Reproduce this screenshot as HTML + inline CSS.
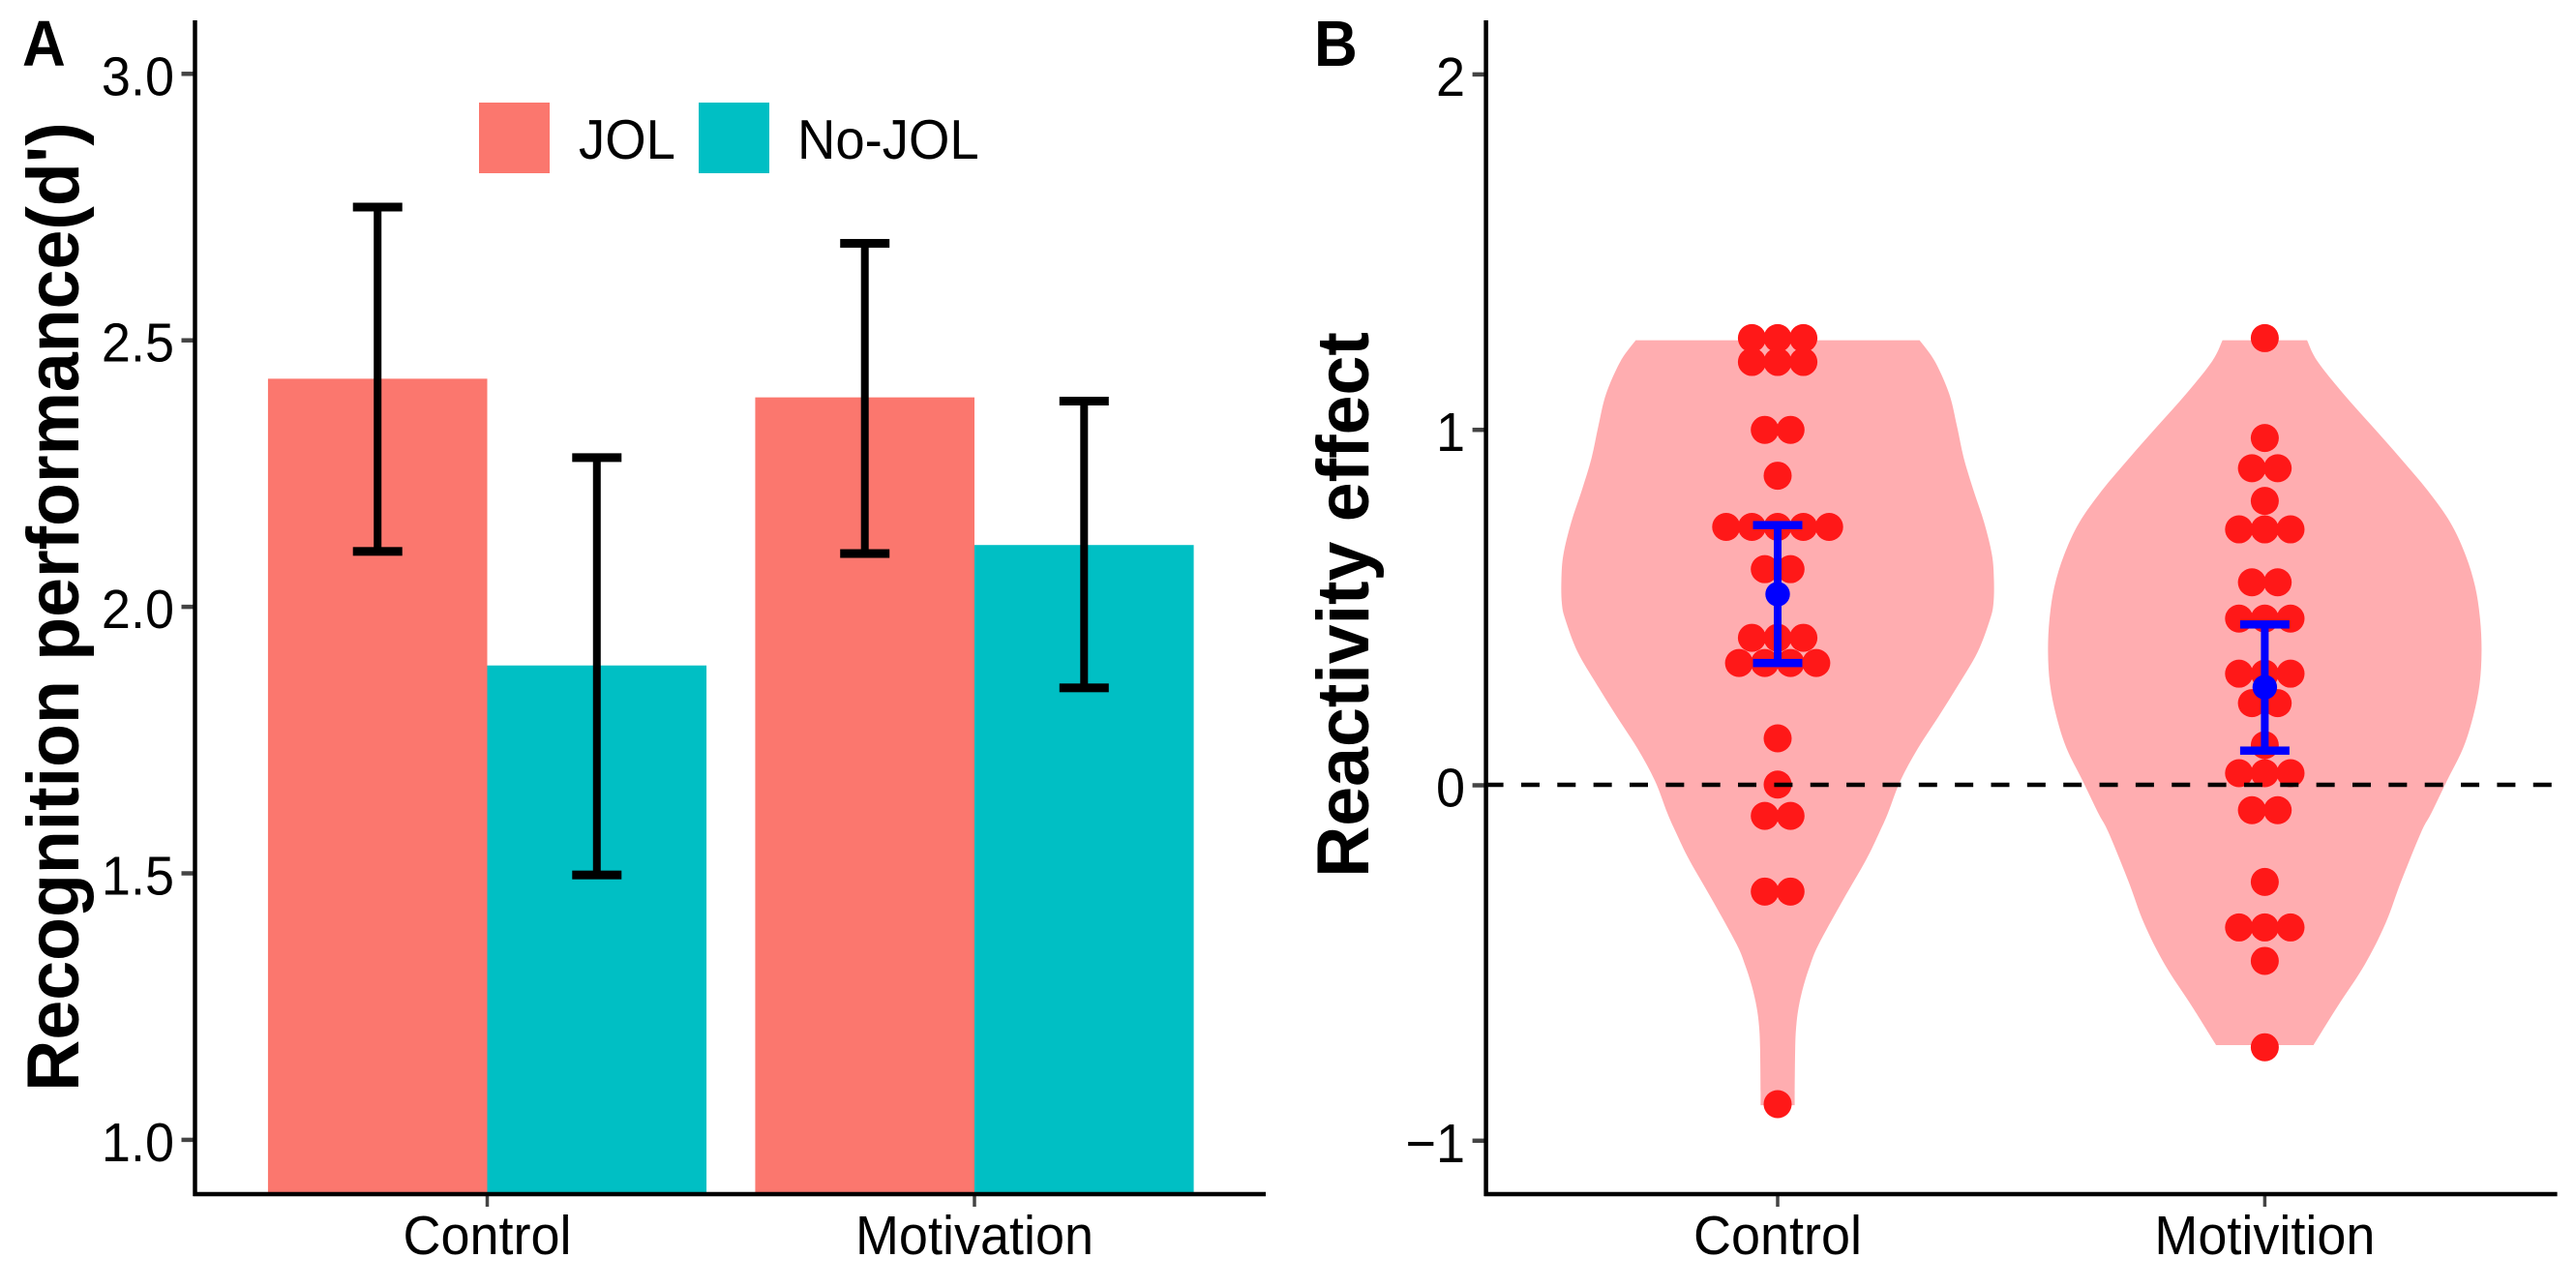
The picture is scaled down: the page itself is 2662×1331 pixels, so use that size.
<!DOCTYPE html>
<html>
<head>
<meta charset="utf-8">
<title>Recognition performance and reactivity effect</title>
<style>
html,body{margin:0;padding:0;background:#fff;}
svg{display:block;}
text{font-family:"Liberation Sans",Arial,sans-serif;fill:#000;}
</style>
</head>
<body>
<svg id="chart" xmlns="http://www.w3.org/2000/svg" width="2662" height="1331" viewBox="0 0 2662 1331">
  <rect x="0" y="0" width="2662" height="1331" fill="#ffffff"/>
  <text transform="translate(23,68) scale(1,1.07)" font-size="62" font-weight="700">A</text>
  <text transform="translate(1358,68) scale(1,1.07)" font-size="62" font-weight="700">B</text>
  <text transform="translate(81,627) rotate(-90) scale(1,1.04)" font-size="73.5" font-weight="700" text-anchor="middle">Recognition performance(d')</text>
  <text transform="translate(1414,625) rotate(-90) scale(1,1.04)" font-size="73.5" font-weight="700" text-anchor="middle">Reactivity effect</text>
  <g id="panelA"></g>
  <g id="panelB"></g>
  <g>
    <rect x="495" y="106" width="73" height="73" fill="#FB776E"/>
    <text transform="translate(598,164) scale(1,1.05)" font-size="54.5">JOL</text>
    <rect x="722" y="106" width="73" height="73" fill="#00BFC4"/>
    <text transform="translate(824,164) scale(1,1.05)" font-size="54.5">No-JOL</text>
  </g>
</svg>
<script>
// Panel A data
var barCategories = ['Control', 'Motivation'];
var barTickValues = [1.0, 1.5, 2.0, 2.5, 3.0];
var barTickLabels = ['1.0', '1.5', '2.0', '2.5', '3.0'];
var jolMeans = [2.428, 2.393];
var jolUpper = [2.750, 2.682];
var jolLower = [2.104, 2.100];
var noJolMeans = [1.890, 2.116];
var noJolUpper = [2.280, 2.386];
var noJolLower = [1.497, 1.848];

// Panel B data
var violinCategories = ['Control', 'Motivition'];
var violinTickValues = [-1, 0, 1, 2];
var violinTickLabels = ['\u22121', '0', '1', '2'];
var controlDots = [1.258,1.258,1.258,1.191,1.191,1.191,1.0,1.0,0.871,0.727,0.727,0.727,0.727,0.727,0.608,0.608,0.415,0.415,0.415,0.344,0.344,0.344,0.344,0.132,0.002,-0.086,-0.086,-0.299,-0.299,-0.897];
var motivitionDots = [1.258,0.977,0.892,0.892,0.80,0.72,0.72,0.72,0.571,0.571,0.469,0.469,0.469,0.314,0.314,0.314,0.231,0.231,0.113,0.034,0.034,0.034,-0.07,-0.07,-0.272,-0.40,-0.40,-0.40,-0.494,-0.737];
var controlSummary = {mean: 0.5377, upper: 0.732, lower: 0.344};
var motivitionSummary = {mean: 0.276, upper: 0.4525, lower: 0.0975};
var controlViolinLevels = [1.2519,1.193,1.102,1.011,0.921,0.830,0.739,0.648,0.576,0.512,0.467,0.376,0.285,0.195,0.104,0.013,-0.078,-0.132,-0.211,-0.328,-0.448,-0.505,-0.565,-0.625,-0.68,-0.742,-0.862,-0.9];
var controlViolinDensity = [0.2914,0.3225,0.352,0.368,0.382,0.402,0.424,0.440,0.444,0.443,0.436,0.411,0.372,0.331,0.288,0.252,0.2265,0.209,0.181,0.132,0.084,0.067,0.053,0.043,0.038,0.036,0.035,0.035];
var motivitionViolinLevels = [1.2519,1.193,1.102,1.011,0.921,0.830,0.739,0.648,0.558,0.467,0.376,0.285,0.195,0.104,0.013,-0.078,-0.132,-0.270,-0.388,-0.505,-0.625,-0.731];
var motivitionViolinDensity = [0.0868,0.108,0.161,0.220,0.278,0.334,0.381,0.412,0.432,0.442,0.445,0.441,0.428,0.407,0.374,0.342,0.321,0.280,0.248,0.205,0.148,0.100];
var referenceValue = 0;

var NS = 'http://www.w3.org/2000/svg';
var SALMON = '#FB776E';
var TEAL = '#00BFC4';
var VIOLIN = '#FFADB0';
var DOT = '#FF1818';
var BLUE = '#0000FF';
var TICK = '#444444';

function make(parent, tag, attrs) {
  var el = document.createElementNS(NS, tag);
  for (var k in attrs) { el.setAttribute(k, attrs[k]); }
  parent.appendChild(el);
  return el;
}

// Axis scales
function xA(v) { return 503.5 + (v - 1) * 503.5; }
function yA(v) { return 76.3 + (3 - v) * 550.8; }
function xB(v) { return 1837 + (v - 1) * 503.4; }
function yB(v) { return 811.5 - v * 367.3; }

function drawAxes(g, left, right, top, bottom, xPos, yPos, xCats, yVals, yLabels, labelX) {
  var i, el;
  for (i = 0; i < yVals.length; i++) {
    el = make(g, 'line', {x1: left - 14, x2: left, y1: yPos(yVals[i]), y2: yPos(yVals[i]), stroke: TICK, 'stroke-width': 4.5});
    
    
    el = make(g, 'text', {transform: 'translate(' + labelX + ',' + (yPos(yVals[i]) + 22) + ') scale(1,1.05)', 'font-size': 54, 'text-anchor': 'end'});
    el.textContent = yLabels[i];
    
    
  }
  for (i = 0; i < xCats.length; i++) {
    el = make(g, 'line', {x1: xPos(i + 1), x2: xPos(i + 1), y1: bottom, y2: bottom + 13, stroke: TICK, 'stroke-width': 3.5});
    
    
    el = make(g, 'text', {transform: 'translate(' + xPos(i + 1) + ',1296) scale(1,1.05)', 'font-size': 54, 'text-anchor': 'middle'});
    el.textContent = xCats[i];
    
    
  }
  el = make(g, 'line', {x1: left, x2: left, y1: top, y2: bottom + 2, stroke: '#000', 'stroke-width': 4.5});
  
  
  el = make(g, 'line', {x1: left - 2, x2: right, y1: bottom, y2: bottom, stroke: '#000', 'stroke-width': 4.5});
  
  
}

function drawErrorBar(g, x, yTop, yBottom, color, lineW, capW, capH) {
  var el = make(g, 'rect', {x: x - lineW / 2, y: yTop, width: lineW, height: yBottom - yTop, fill: color});
  
  
  el = make(g, 'rect', {x: x - capW / 2, y: yTop - capH / 2, width: capW, height: capH, fill: color});
  
  
  el = make(g, 'rect', {x: x - capW / 2, y: yBottom - capH / 2, width: capW, height: capH, fill: color});
  
  
}

function drawBars() {
  var g = document.getElementById('panelA');
  var w = 0.45, i, el, base = yA(0.9);
  for (i = 0; i < barCategories.length; i++) {
    el = make(g, 'rect', {x: xA(i + 1 - w), y: yA(jolMeans[i]), width: xA(i + 1) - xA(i + 1 - w), height: base - yA(jolMeans[i]), fill: SALMON});
    
    
    el = make(g, 'rect', {x: xA(i + 1), y: yA(noJolMeans[i]), width: xA(i + 1 + w) - xA(i + 1), height: base - yA(noJolMeans[i]), fill: TEAL});
    
    
  }
  for (i = 0; i < barCategories.length; i++) {
    drawErrorBar(g, xA(i + 1 - w / 2), yA(jolUpper[i]), yA(jolLower[i]), '#000', 8, 51, 9);
    drawErrorBar(g, xA(i + 1 + w / 2), yA(noJolUpper[i]), yA(noJolLower[i]), '#000', 8, 51, 9);
  }
  drawAxes(g, 201.5, 1308, 21, 1234, xA, yA, barCategories, barTickValues, barTickLabels, 180);
}

function smoothSide(pts) {
  var d = '', i, p0, p1, p2, p3;
  for (i = 0; i < pts.length - 1; i++) {
    p0 = pts[Math.max(i - 1, 0)];
    p1 = pts[i];
    p2 = pts[i + 1];
    p3 = pts[Math.min(i + 2, pts.length - 1)];
    d += ' C' + (p1[0] + (p2[0] - p0[0]) / 6) + ' ' + (p1[1] + (p2[1] - p0[1]) / 6) + ' ' +
         (p2[0] - (p3[0] - p1[0]) / 6) + ' ' + (p2[1] - (p3[1] - p1[1]) / 6) + ' ' + p2[0] + ' ' + p2[1];
  }
  return d;
}

function drawViolin(g, pos, levels, density, name) {
  var right = [], left = [], i;
  for (i = 0; i < levels.length; i++) {
    right.push([xB(pos + density[i]), yB(levels[i])]);
    left.unshift([xB(pos - density[i]), yB(levels[i])]);
  }
  var d = 'M' + right[0][0] + ' ' + right[0][1] + smoothSide(right) +
          ' L' + left[0][0] + ' ' + left[0][1] + smoothSide(left) + ' Z';
  var el = make(g, 'path', {d: d, fill: VIOLIN});
  
  
}

function drawDots(g, pos, values, name) {
  var groups = [], i, j, found, el, binW = 26.6 / 503.4;
  for (i = 0; i < values.length; i++) {
    found = false;
    for (j = 0; j < groups.length; j++) {
      if (groups[j].value === values[i]) { groups[j].count++; found = true; }
    }
    if (!found) { groups.push({value: values[i], count: 1}); }
  }
  for (i = 0; i < groups.length; i++) {
    for (j = 0; j < groups[i].count; j++) {
      el = make(g, 'circle', {cx: xB(pos + (j - (groups[i].count - 1) / 2) * binW), cy: yB(groups[i].value), r: 14.5, fill: DOT});
      
      
    }
  }
}

function drawSummary(g, pos, s) {
  drawErrorBar(g, xB(pos), yB(s.upper), yB(s.lower), BLUE, 8, 51, 8.5);
  var el = make(g, 'circle', {cx: xB(pos), cy: yB(s.mean), r: 12.7, fill: BLUE});
  
  
}

function drawViolins() {
  var g = document.getElementById('panelB');
  drawViolin(g, 1, controlViolinLevels, controlViolinDensity, 'violin-control');
  drawViolin(g, 2, motivitionViolinLevels, motivitionViolinDensity, 'violin-motivition');
  drawDots(g, 1, controlDots, 'dot-control');
  drawDots(g, 2, motivitionDots, 'dot-motivition');
  var el = make(g, 'line', {x1: 1537.6, x2: 2642, y1: yB(referenceValue) - 0.5, y2: yB(referenceValue) - 0.5, stroke: '#000', 'stroke-width': 4.5, 'stroke-dasharray': '19 18.35', 'stroke-dashoffset': 3});
  
  
  drawSummary(g, 1, controlSummary);
  drawSummary(g, 2, motivitionSummary);
  drawAxes(g, 1535.6, 2642.6, 21, 1234, xB, yB, violinCategories, violinTickValues, violinTickLabels, 1514);
}

drawBars();
drawViolins();
</script>
</body>
</html>
